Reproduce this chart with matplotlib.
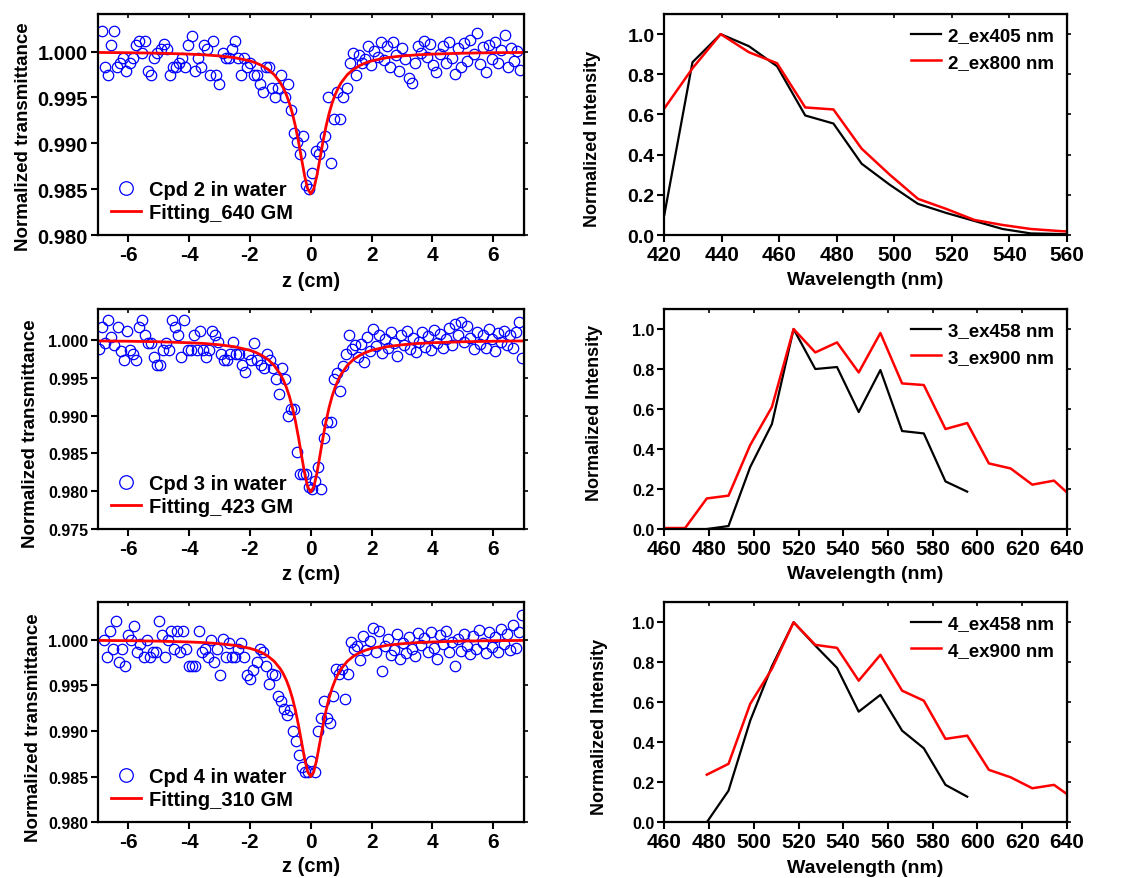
import numpy as np
import matplotlib
matplotlib.use('Agg')
import matplotlib.pyplot as plt
from matplotlib.ticker import FormatStrFormatter

plt.rcParams['font.family'] = ['Liberation Sans', 'DejaVu Sans']
plt.rcParams['font.weight'] = 'bold'
plt.rcParams['axes.labelweight'] = 'bold'
plt.rcParams['axes.unicode_minus'] = False

# ---- Z-scan data (normalized transmittance) ----
T_cpd2 = [1.0022, 0.9983, 0.9974, 1.0007, 1.0022, 0.9983, 0.9988, 0.9993, 0.9979, 0.9988,
          0.9993, 1.0007, 1.0012, 0.9999, 1.0012, 0.9979, 0.9974, 0.9993, 0.9999, 1.0003,
          1.0008, 1.0003, 0.9974, 0.9983, 0.9983, 0.9988, 0.9993, 0.9983, 1.0007, 1.0017,
          0.9979, 0.9993, 0.9983, 1.0007, 1.0003, 0.9974, 1.0012, 0.9974, 0.9965, 0.9999,
          0.9993, 0.9993, 1.0003, 1.0012, 0.9993, 0.9974, 0.9993, 0.9983, 0.9988, 0.9974,
          0.9974, 0.9965, 0.9956, 0.9983, 0.9983, 0.9960, 0.9950, 0.9960, 0.9974, 0.9950,
          0.9965, 0.9936, 0.9911, 0.9901, 0.9888, 0.9908, 0.9855, 0.9850, 0.9868, 0.9892,
          0.9888, 0.9897, 0.9908, 0.9950, 0.9879, 0.9926, 0.9956, 0.9926, 0.9950, 0.9960,
          0.9988, 0.9999, 0.9974,
          0.9996, 0.9988, 0.9992, 1.0006, 0.9985, 1.0001, 0.9994, 1.0011, 0.9991, 1.0006,
          0.9983, 1.0010, 0.9996, 0.9979, 1.0004, 0.9992, 0.9971, 0.9966, 0.9988, 1.0006,
          0.9999, 1.0012, 0.9994, 1.0008, 0.9985, 0.9978, 0.9997, 1.0006, 0.9988, 1.0011,
          0.9993, 0.9976, 1.0004, 0.9983, 1.0009, 0.9990, 1.0013, 0.9997, 1.0020, 0.9986,
          1.0005, 0.9978, 1.0007, 0.9992, 1.0011, 0.9988, 1.0002, 1.0018, 0.9983, 1.0004,
          0.9990, 1.0001, 0.9980]
T_cpd3 = [0.9988, 1.0017, 0.9996, 1.0026, 1.0004, 0.9993, 1.0017, 0.9986, 0.9973, 1.0012,
          0.9987, 0.9981, 0.9973, 1.0017, 1.0026, 1.0007, 0.9996, 0.9996, 0.9977, 0.9967,
          0.9967, 0.9987, 0.9996, 0.9987, 1.0026, 1.0017, 1.0007, 0.9977, 1.0026, 0.9987,
          0.9987, 1.0007, 0.9987, 1.0012, 0.9987, 0.9977, 0.9987, 1.0012, 1.0007, 0.9997,
          0.9981, 0.9973, 0.9973, 0.9981, 0.9997, 0.9981, 0.9981, 0.9967, 0.9958, 0.9981,
          0.9973, 0.9996, 0.9973, 0.9967, 0.9963, 0.9981, 0.9973, 0.9963, 0.9949, 0.9929,
          0.9963, 0.9949, 0.9900, 0.9909, 0.9909, 0.9852, 0.9823, 0.9823, 0.9823, 0.9805,
          0.9803, 0.9814, 0.9832, 0.9803, 0.9871, 0.9891, 0.9891, 0.9948, 0.9957, 0.9933,
          0.9966, 0.9981, 1.0006, 0.9988, 0.9993,
          0.9978, 0.9995, 0.9971, 1.0004, 0.9986, 1.0014, 0.9992, 1.0007, 0.9983, 1.0001,
          0.9990, 1.0011, 0.9996, 0.9979, 1.0006, 0.9993, 1.0012, 0.9988, 1.0003, 0.9984,
          0.9998, 1.0010, 0.9991, 1.0005, 0.9987, 1.0013, 0.9996, 1.0008, 0.9989, 1.0002,
          1.0016, 0.9994, 1.0021, 1.0006, 1.0024, 0.9997, 1.0018, 1.0003, 0.9988, 1.0011,
          0.9995, 1.0007, 0.9990, 1.0015, 1.0001, 0.9986, 1.0009, 0.9997, 1.0012, 0.9993,
          1.0006, 0.9989, 1.0010, 1.0024, 0.9976]
T_cpd4 = [1.0000, 0.9981, 1.0010, 0.9990, 1.0020, 0.9976, 0.9990, 0.9971, 1.0005, 1.0000,
          1.0015, 0.9986, 0.9995, 0.9981, 1.0000, 0.9981, 0.9986, 0.9986, 1.0020, 1.0005,
          0.9981, 1.0000, 1.0010, 0.9990, 1.0010, 0.9986, 1.0010, 0.9990, 0.9971, 0.9971,
          0.9971, 1.0010, 0.9986, 0.9990, 0.9981, 1.0000, 0.9976, 0.9990, 0.9961, 1.0001,
          0.9981, 0.9996, 0.9981, 0.9981, 0.9990, 0.9996, 0.9981, 0.9961, 0.9957, 0.9967,
          0.9976, 0.9990, 0.9986, 0.9971, 0.9952, 0.9962, 0.9961, 0.9938, 0.9933, 0.9924,
          0.9918, 0.9923, 0.9900, 0.9889, 0.9874, 0.9861, 0.9855, 0.9855, 0.9867, 0.9855,
          0.9900, 0.9914, 0.9933, 0.9914, 0.9909, 0.9938, 0.9968, 0.9962, 0.9968, 0.9935,
          0.9962, 0.9997, 0.9990,
          0.9993, 0.9978, 1.0004, 0.9989, 0.9999, 1.0013, 0.9986, 1.0009, 0.9966, 0.9993,
          1.0001, 0.9983, 0.9989, 1.0006, 0.9979, 0.9996, 0.9985, 1.0003, 0.9990, 0.9982,
          1.0007, 0.9994, 1.0002, 0.9986, 1.0008, 0.9991, 0.9979, 1.0005, 0.9995, 1.0009,
          0.9987, 0.9997, 0.9971, 1.0001, 0.9988, 1.0006, 0.9993, 0.9984, 1.0004, 0.9990,
          1.0011, 0.9996, 0.9985, 1.0008, 0.9992, 1.0003, 0.9987, 1.0012, 0.9995, 1.0006,
          0.9989, 1.0016, 0.9991, 1.0008, 1.0027]
# scan positions (evenly spaced stage steps, first/last position)
z_cpd2 = np.linspace(-6.87, 6.88, len(T_cpd2))
z_cpd3 = np.linspace(-6.95, 6.95, len(T_cpd3))
z_cpd4 = np.linspace(-6.80, 6.95, len(T_cpd4))

# fitted curves, values read at these z positions
z_fit = [-7, -6, -5, -4, -3.5, -3, -2.5, -2, -1.8, -1.6, -1.4, -1.2, -1.0, -0.9, -0.8,
         -0.7, -0.6, -0.5, -0.4, -0.3, -0.2, -0.1, 0, 0.1, 0.2, 0.3, 0.4, 0.5, 0.6, 0.7,
         0.8, 0.9, 1.0, 1.2, 1.4, 1.6, 1.8, 2, 2.5, 3, 3.5, 4, 5, 6, 7]
fit_cpd2 = [0.99991, 0.99988, 0.99983, 0.99973, 0.99965, 0.99953, 0.99934, 0.99899, 0.99877,
            0.99847, 0.99806, 0.99748, 0.99661, 0.99602, 0.99528, 0.99436, 0.99322, 0.99181,
            0.99014, 0.98827, 0.98644, 0.98503, 0.98450, 0.98503, 0.98644, 0.98827, 0.99014,
            0.99181, 0.99322, 0.99436, 0.99528, 0.99602, 0.99661, 0.99748, 0.99806, 0.99847,
            0.99877, 0.99899, 0.99934, 0.99953, 0.99965, 0.99973, 0.99983, 0.99988, 0.99991]
fit_cpd3 = [0.99988, 0.99984, 0.99977, 0.99964, 0.99954, 0.99937, 0.99911, 0.99864, 0.99835,
            0.99795, 0.99741, 0.99663, 0.99548, 0.99470, 0.99373, 0.99253, 0.99103, 0.98921,
            0.98705, 0.98466, 0.98234, 0.98057, 0.97990, 0.98057, 0.98234, 0.98466, 0.98705,
            0.98921, 0.99103, 0.99253, 0.99373, 0.99470, 0.99548, 0.99663, 0.99741, 0.99795,
            0.99835, 0.99864, 0.99911, 0.99937, 0.99954, 0.99964, 0.99977, 0.99984, 0.99988]
fit_cpd4 = [0.99992, 0.99989, 0.99984, 0.99975, 0.99968, 0.99956, 0.99938, 0.99905, 0.99885,
            0.99857, 0.99818, 0.99763, 0.99681, 0.99625, 0.99555, 0.99467, 0.99357, 0.99221,
            0.99058, 0.98875, 0.98693, 0.98554, 0.98500, 0.98554, 0.98693, 0.98875, 0.99058,
            0.99221, 0.99357, 0.99467, 0.99555, 0.99625, 0.99681, 0.99763, 0.99818, 0.99857,
            0.99885, 0.99905, 0.99938, 0.99956, 0.99968, 0.99975, 0.99985, 0.99989, 0.99992]

# ---- emission spectra ----
wl_2 = [420.0, 429.8, 439.6, 449.4, 459.2, 469.0, 478.8, 488.6, 498.4, 508.2, 518.0,
        527.8, 537.6, 547.4, 557.2, 567.0]
I_2_ex405 = [0.10, 0.86, 1.00, 0.94, 0.84, 0.595, 0.555, 0.355, 0.25, 0.155, 0.11,
             0.07, 0.03, 0.008, 0.005, 0.003]
I_2_ex800 = [0.63, 0.83, 1.00, 0.91, 0.855, 0.635, 0.625, 0.43, 0.30, 0.18, 0.13,
             0.075, 0.05, 0.03, 0.02, 0.012]

wl_a = [459.6, 469.3, 479.0, 488.7, 498.4, 508.1, 517.8, 527.5, 537.2, 546.9, 556.6,
        566.3, 576.0, 585.7, 595.4, 605.1, 614.8, 624.5, 634.2, 643.9]
wl_b = wl_a[2:15]   # 479.0 ... 595.4
I_3_ex458 = [0.0, 0.015, 0.31, 0.525, 1.00, 0.80, 0.81, 0.585, 0.795, 0.49, 0.478,
             0.238, 0.187]
I_3_ex900 = [0.005, 0.005, 0.153, 0.167, 0.42, 0.61, 1.00, 0.883, 0.933, 0.783, 0.98,
             0.728, 0.72, 0.50, 0.53, 0.328, 0.303, 0.222, 0.242, 0.143]
wl_c = wl_a[2:]     # 479.0 ... 643.9
I_4_ex458 = [0.0, 0.158, 0.508, 0.78, 1.00, 0.883, 0.772, 0.553, 0.637, 0.458, 0.37,
             0.187, 0.128]
I_4_ex900 = [0.238, 0.292, 0.592, 0.767, 1.00, 0.887, 0.872, 0.708, 0.837, 0.658, 0.608,
             0.417, 0.433, 0.262, 0.225, 0.17, 0.187, 0.11]

blue = '#0000ff'
red = '#ff0000'

fig = plt.figure(figsize=(11.21, 8.79), dpi=100)
rows = [(0.7315, 0.2514), (0.397, 0.2503), (0.0634, 0.2503)]
left_axes = [fig.add_axes([0.0872, b, 0.380, h]) for b, h in rows]
right_axes = [fig.add_axes([0.5926, b, 0.3592, h]) for b, h in rows]


def style(ax, ysize):
    for s in ax.spines.values():
        s.set_linewidth(1.6)
    ax.tick_params(axis='both', direction='out', length=5, width=1.5)
    ax.tick_params(axis='x', labelsize=15, pad=2)
    ax.tick_params(axis='y', labelsize=ysize, pad=2)
    top = ax.secondary_xaxis('top')
    top.tick_params(direction='in', length=3, width=1.2, labeltop=False)
    top.set_xticks(ax.get_xticks())
    top.set_xticklabels([])
    rt = ax.secondary_yaxis('right')
    rt.tick_params(direction='out', length=3, width=1.2, labelright=False)
    rt.set_yticks(ax.get_yticks())
    rt.set_yticklabels([])


zscan = [
    (z_cpd2, T_cpd2, fit_cpd2, 'Cpd 2 in water', 'Fitting_640 GM', 0.980, 14.5, -0.155, 0.448, -0.163),
    (z_cpd3, T_cpd3, fit_cpd3, 'Cpd 3 in water', 'Fitting_423 GM', 0.975, 11.5, -0.137, 0.440, -0.160),
    (z_cpd4, T_cpd4, fit_cpd4, 'Cpd 4 in water', 'Fitting_310 GM', 0.980, 11.5, -0.132, 0.436, -0.155),
]
for ax, (z, T, fit, lab1, lab2, ylo, ys, lx, ly, xly) in zip(left_axes, zscan):
    ax.plot(z, T, 'o', mfc='none', mec=blue, ms=7.5, mew=0.9, label=lab1)
    ax.plot(z_fit, fit, '-', color=red, lw=2.0, label=lab2)
    ax.set_xlim(-7, 7)
    ax.set_ylim(ylo, 1.0041)
    ax.set_xticks([-6, -4, -2, 0, 2, 4, 6])
    ax.set_yticks(np.arange(ylo, 1.0001, 0.005))
    ax.yaxis.set_major_formatter(FormatStrFormatter('%.3f'))
    style(ax, ys)
    ax.set_xlabel('z (cm)', fontsize=14.5, fontweight='bold')
    ax.xaxis.set_label_coords(0.5, xly)
    ax.set_ylabel('Normalized transmittance', fontsize=13.5, fontweight='bold')
    ax.yaxis.set_label_coords(lx, ly)
    ax.legend(loc='lower left', frameon=False, handlelength=1.5, markerscale=1.3,
              handletextpad=0.4, labelspacing=0.2, borderaxespad=0.25,
              prop={'weight': 'bold', 'size': 14.5})

spectra = [
    (wl_2, I_2_ex405, wl_2, I_2_ex800, '2_ex405 nm', '2_ex800 nm', (420, 560), 14, -0.156, 0.44),
    (wl_b, I_3_ex458, wl_a, I_3_ex900, '3_ex458 nm', '3_ex900 nm', (460, 640), 11.5, -0.153, 0.53),
    (wl_b, I_4_ex458, wl_c, I_4_ex900, '4_ex458 nm', '4_ex900 nm', (460, 640), 11.5, -0.141, 0.44),
]
for ax, (x1, y1, x2, y2, lab1, lab2, xl, ys, lx, ly) in zip(right_axes, spectra):
    ax.plot(x1, y1, '-', color='black', lw=1.6, label=lab1)
    ax.plot(x2, y2, '-', color=red, lw=1.8, label=lab2)
    ax.set_xlim(*xl)
    ax.set_ylim(0, 1.1)
    ax.set_xticks(np.arange(xl[0], xl[1] + 1, 20))
    ax.set_yticks([0.0, 0.2, 0.4, 0.6, 0.8, 1.0])
    ax.yaxis.set_major_formatter(FormatStrFormatter('%.1f'))
    style(ax, ys)
    ax.set_xlabel('Wavelength (nm)', fontsize=14, fontweight='bold')
    ax.xaxis.set_label_coords(0.5, -0.165)
    ax.set_ylabel('Normalized Intensity', fontsize=13, fontweight='bold')
    ax.yaxis.set_label_coords(lx, ly)
    ax.legend(loc='upper right', bbox_to_anchor=(1.0, 1.0), frameon=False,
              handlelength=1.6, handletextpad=0.35, labelspacing=0.5, borderaxespad=0.3,
              prop={'weight': 'bold', 'size': 13.5})

fig.savefig('out.png', dpi=100)
